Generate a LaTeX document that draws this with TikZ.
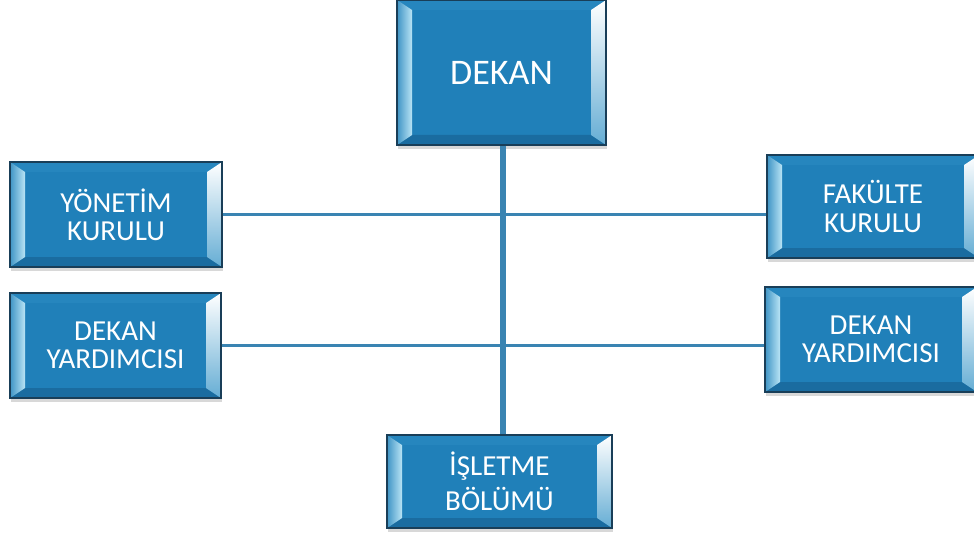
\documentclass[tikz,border=0pt]{standalone}
\usepackage{fontspec}
\setmainfont{Carlito}
\usepackage{tikz}
\usetikzlibrary{shadows}
\definecolor{boxblue}{RGB}{32,128,185}
\definecolor{bevelhi}{RGB}{185,228,245}
\definecolor{boxtop}{RGB}{38,134,190}
\definecolor{boxdeep}{RGB}{26,108,160}
\definecolor{boxedge}{RGB}{25,62,88}
\definecolor{linkblue}{RGB}{58,132,178}
\tikzset{
  bevelbox/.style={rectangle, inner sep=0pt, fill=boxblue, draw=boxedge, line width=0.6pt,
    text=white, align=center, font=\fontsize{16.5}{16}\selectfont,
    drop shadow={shadow xshift=0.6pt, shadow yshift=-2.5pt, opacity=0.3},
    path picture={
      \path (path picture bounding box.north west) coordinate (bnw)
            (path picture bounding box.north east) coordinate (bne)
            (path picture bounding box.south east) coordinate (bse)
            (path picture bounding box.south west) coordinate (bsw);
      \fill[boxtop] (bnw) -- (bne) -- ([shift={(-15,10)}]bne) -- ([shift={(15,10)}]bnw) -- cycle;
      \fill[boxdeep] (bsw) -- (bse) -- ([shift={(-15,-10)}]bse) -- ([shift={(15,-10)}]bsw) -- cycle;
      \shade[left color=boxblue!80!bevelhi, right color=bevelhi] (bnw) -- ([shift={(15,10)}]bnw) -- ([shift={(15,-10)}]bsw) -- (bsw) -- cycle;
      \shade[top color=white, bottom color=boxblue!55!bevelhi] (bne) -- ([shift={(-15,10)}]bne) -- ([shift={(-15,-10)}]bse) -- (bse) -- cycle;
    }},
  link/.style={draw=linkblue, line width=1.7pt}
}
\begin{document}
\begin{tikzpicture}[x=0.02cm, y=-0.02cm]
      \clip (0,0) rectangle (974,537);
      \fill[white] (0,0) rectangle (974,537);
      \node[bevelbox, minimum width=209*0.02cm, minimum height=145*0.02cm, font=\fontsize{20.5}{22}\selectfont] (dekan) at (501.5,72.5) {DEKAN};
      \node[bevelbox, minimum width=212*0.02cm, minimum height=105*0.02cm] (yonetim) at (116,214.5) {YÖNETİM\\KURULU};
      \node[bevelbox, minimum width=212*0.02cm, minimum height=103*0.02cm] (fakulte) at (873,206.5) {FAKÜLTE\\KURULU};
      \node[bevelbox, minimum width=211*0.02cm, minimum height=105*0.02cm] (yardimcisol) at (115.5,345.5) {DEKAN\\YARDIMCISI};
      \node[bevelbox, minimum width=212*0.02cm, minimum height=105*0.02cm] (yardimcisag) at (871,339.5) {DEKAN\\YARDIMCISI};
      \node[bevelbox, minimum width=225*0.02cm, minimum height=93*0.02cm, font=\fontsize{16.5}{20}\selectfont] (isletme) at (499.5,481.5) {İŞLETME\\BÖLÜMÜ};
      \draw[link] (yonetim.east) -- (yonetim.east -| fakulte.west);
      \draw[link] (yardimcisol.east) -- (yardimcisol.east -| yardimcisag.west);
      \draw[link, line width=3.4pt] (dekan.south -| 503,0) -- (isletme.north -| 503,0);
    \end{tikzpicture}
\end{document}
